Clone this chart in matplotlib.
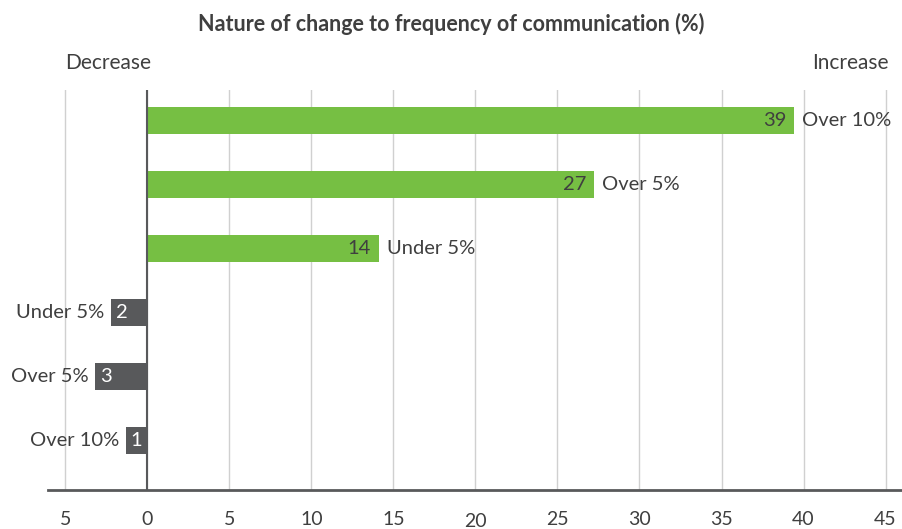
import matplotlib
matplotlib.use("Agg")
import matplotlib.pyplot as plt

# Data (top to bottom)
categories = ["Over 10%", "Over 5%", "Under 5%", "Under 5%", "Over 5%", "Over 10%"]
values = [39.4, 27.2, 14.1, -2.2, -3.2, -1.3]
colors_by_sign = {"pos": "#76BF43", "neg": "#58595B"}
xticks = [-5, 0, 5, 10, 15, 20, 25, 30, 35, 40, 45]
xtick_labels = ["5", "0", "5", "10", "15", "20", "25", "30", "35", "40", "45"]
title = "Nature of change to frequency of communication (%)"

plt.rcParams['font.family'] = ['Lato', 'DejaVu Sans']
txt = "#3F3F3F"
fs = 14.5

fig = plt.figure(figsize=(9.02, 5.29), dpi=100)
ax = fig.add_axes([48/902, 1 - 490/529, (902-48)/902, (490-90)/529])

n = len(values)
ypos = list(range(n))
ax.set_ylim(n - 1 + 0.78, -0.48)
ax.set_xlim(-6.05, 46.0)

for g in xticks:
    ax.axvline(g, color="#D0D0D0", lw=1, zorder=0)
ax.axvline(0, color="#58595B", lw=1.5, zorder=3)

for y, v, c in zip(ypos, values, categories):
    col = colors_by_sign["pos"] if v > 0 else colors_by_sign["neg"]
    ax.barh(y, v, height=0.42, color=col, zorder=2)
    lab = str(int(round(abs(v))))
    if v > 0:
        ax.text(v - 0.45, y, lab, ha="right", va="center", color=txt, fontsize=fs, zorder=4)
        ax.text(v + 0.5, y, c, ha="left", va="center", color=txt, fontsize=fs, zorder=4)
    else:
        ax.text(v + 0.3, y, lab, ha="left", va="center", color="white", fontsize=fs, zorder=4)
        ax.text(v - 0.4, y, c, ha="right", va="center", color=txt, fontsize=fs, zorder=4)

ax.set_yticks([])
ax.set_xticks(xticks)
ax.set_xticklabels(xtick_labels, fontsize=14, color=txt)
ax.tick_params(axis="x", length=0, pad=15)
for lbl, t in zip(ax.get_xticklabels(), xticks):
    if t == 20:
        lbl.set_y(-0.006)
for s in ["top", "right", "left"]:
    ax.spines[s].set_visible(False)
ax.spines["bottom"].set_color("#58595B")
ax.spines["bottom"].set_linewidth(2)

fig.text(0.5, 1 - 24/529, title, ha="center", va="center", fontsize=15.5, fontweight="bold", color=txt)
fig.text(108/902, 1 - 63/529, "Decrease", ha="center", va="center", fontsize=15, color=txt)
fig.text(850/902, 1 - 63/529, "Increase", ha="center", va="center", fontsize=15, color=txt)

fig.savefig("out.png", dpi=100)
